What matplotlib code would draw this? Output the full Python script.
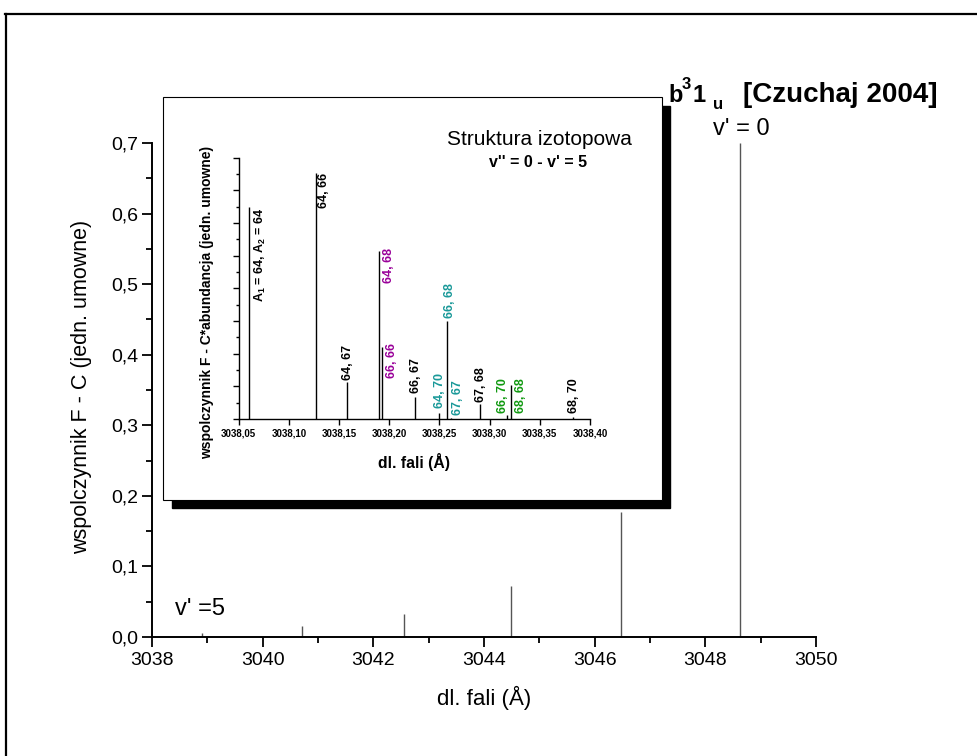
import matplotlib
matplotlib.use('Agg')
import matplotlib.pyplot as plt
from matplotlib.patches import Rectangle
from matplotlib.lines import Line2D
from matplotlib.ticker import MultipleLocator, FuncFormatter

plt.rcParams['font.family'] = ['Liberation Sans', 'DejaVu Sans']
plt.rcParams['mathtext.default'] = 'regular'

# pasma v'' = 0 -> v' = 5 ... 0
pasma_x = [3038.9, 3040.71, 3042.55, 3044.49, 3046.47, 3048.62]
pasma_fc = [0.006, 0.015, 0.033, 0.072, 0.177, 0.700]

# struktura izotopowa pasma v'' = 0 - v' = 5
izo_x = [3038.0599, 3038.1267, 3038.1579, 3038.1895, 3038.1931, 3038.2253,
         3038.2499, 3038.2579, 3038.2620, 3038.2901, 3038.3176, 3038.3210, 3038.3834]
izo_h = [6.48, 7.53, 1.12, 5.14, 2.20, 0.67, 0.18, 2.99, 0.03, 0.47, 0.12, 1.04, 0.07]
izo_lab = ['A$_1$ = 64, A$_2$ = 64', '64, 66', '64, 67', '64, 68', '66, 66', '66, 67',
           '64, 70', '66, 68', '67, 67', '67, 68', '66, 70', '68, 68', '68, 70']

fiolet, morski, ziel = '#990099', '#1a9999', '#109910'
izo_kol = ['black', 'black', 'black', fiolet, fiolet, 'black',
           morski, morski, morski, 'black', ziel, ziel, 'black']
# pozycje podpisow (x, dol tekstu)
lab_x = [3038.0712, 3038.135, 3038.159, 3038.200, 3038.203, 3038.2266,
         3038.2505, 3038.2605, 3038.2685, 3038.2914, 3038.3133, 3038.3313, 3038.384]
lab_y = [3.58, 6.46, 1.19, 4.16, 1.26, 0.80, 0.34, 3.09, 0.12, 0.52, 0.18, 0.18, 0.18]

W, H = 978, 756
fig = plt.figure(figsize=(W / 100, H / 100), dpi=100)


def px(x, y):
    return x / W, 1 - y / H


# ramka (tylko gora i lewa strona)
fig.add_artist(Line2D([5 / W, 1], [1 - 13.5 / H] * 2, color='black', lw=1.6, transform=fig.transFigure))
fig.add_artist(Line2D([6 / W] * 2, [0, 1 - 13.5 / H], color='black', lw=1.6, transform=fig.transFigure))

# glowny wykres
ax = fig.add_axes([152 / W, 1 - 637 / H, 664 / W, 494 / H])
ax.vlines(pasma_x, 0, pasma_fc, color='#555555', lw=1.0)
ax.set_xlim(3038, 3050)
ax.set_ylim(0, 0.7)
for s in ['top', 'right']:
    ax.spines[s].set_visible(False)
for s in ['left', 'bottom']:
    ax.spines[s].set_linewidth(1.4)
ax.xaxis.set_major_locator(MultipleLocator(2))
ax.xaxis.set_minor_locator(MultipleLocator(1))
ax.yaxis.set_major_locator(MultipleLocator(0.1))
ax.yaxis.set_minor_locator(MultipleLocator(0.05))
ax.yaxis.set_major_formatter(FuncFormatter(lambda v, p: f'{v:.1f}'.replace('.', ',')))
ax.tick_params(which='major', length=7, width=1.3, labelsize=14)
ax.tick_params(which='minor', length=4.5, width=1.3)
ax.tick_params(axis='x', pad=4)
ax.tick_params(axis='y', pad=3)

fig.text(*px(484, 698), 'dl. fali (Å)', fontsize=16, ha='center', va='center')
fig.text(*px(82, 387), 'wspolczynnik F - C (jedn. umowne)', fontsize=15.5,
         ha='center', va='center', rotation=90)

# tytul: b^3 1_u [Czuchaj 2004]
tyt = dict(fontweight='bold', ha='left', va='baseline')
fig.text(*px(668, 102), 'b', fontsize=17, **tyt)
fig.text(*px(682, 89), '3', fontsize=12, **tyt)
fig.text(*px(693, 102), '1', fontsize=17, **tyt)
fig.text(*px(713, 109), 'u', fontsize=12, **tyt)
fig.text(*px(743, 102), '[Czuchaj 2004]', fontsize=20, **tyt)

fig.text(*px(713, 135), "v' = 0", fontsize=17, ha='left', va='baseline')
fig.text(*px(175, 615), "v' =5", fontsize=17, ha='left', va='baseline')

# wstawka: cien i ramka
fig.add_artist(Rectangle(px(172, 508), 498 / W, 402 / H, transform=fig.transFigure,
                         facecolor='black', edgecolor='black', zorder=5))
fig.add_artist(Rectangle(px(163, 500), 499 / W, 403 / H, transform=fig.transFigure,
                         facecolor='white', edgecolor='black', lw=0.8, zorder=6))

ins = fig.add_axes([238.7 / W, 1 - 419 / H, 351.3 / W, 261.3 / H], zorder=7)
ins.patch.set_alpha(0)
ins.vlines(izo_x, 0, izo_h, color='black', lw=1.0)
for t, c, x, y in zip(izo_lab, izo_kol, lab_x, lab_y):
    ins.text(x, y, t, color=c, fontsize=9, fontweight='bold', rotation=90,
             ha='center', va='bottom')
ins.set_xlim(3038.05, 3038.40)
ins.set_ylim(0, 8)
for s in ['top', 'right']:
    ins.spines[s].set_visible(False)
for s in ['left', 'bottom']:
    ins.spines[s].set_linewidth(1.0)
ins.xaxis.set_major_locator(MultipleLocator(0.05))
ins.xaxis.set_major_formatter(FuncFormatter(lambda v, p: f'{v:.2f}'.replace('.', ',')))
ins.yaxis.set_major_locator(MultipleLocator(1))
ins.yaxis.set_minor_locator(MultipleLocator(0.5))
ins.yaxis.set_major_formatter(FuncFormatter(lambda v, p: ''))
ins.tick_params(which='major', length=4, width=1.0, labelsize=7, pad=3)
ins.tick_params(which='minor', length=2.5, width=1.0)
for lb in ins.get_xticklabels():
    lb.set_fontweight('bold')

fig.text(*px(414, 468), 'dl. fali (Å)', fontsize=11.3, fontweight='bold',
         ha='center', va='baseline', zorder=8)
fig.text(*px(207, 302), 'wspolczynnik F - C*abundancja (jedn. umowne)', fontsize=10,
         fontweight='bold', ha='center', va='center', rotation=90, zorder=8)
fig.text(*px(539, 145), 'Struktura izotopowa', fontsize=15, ha='center', va='baseline', zorder=8)
fig.text(*px(538, 167), "v'' = 0 - v' = 5", fontsize=11.5, fontweight='bold',
         ha='center', va='baseline', zorder=8)

fig.savefig('out.png', dpi=100)
